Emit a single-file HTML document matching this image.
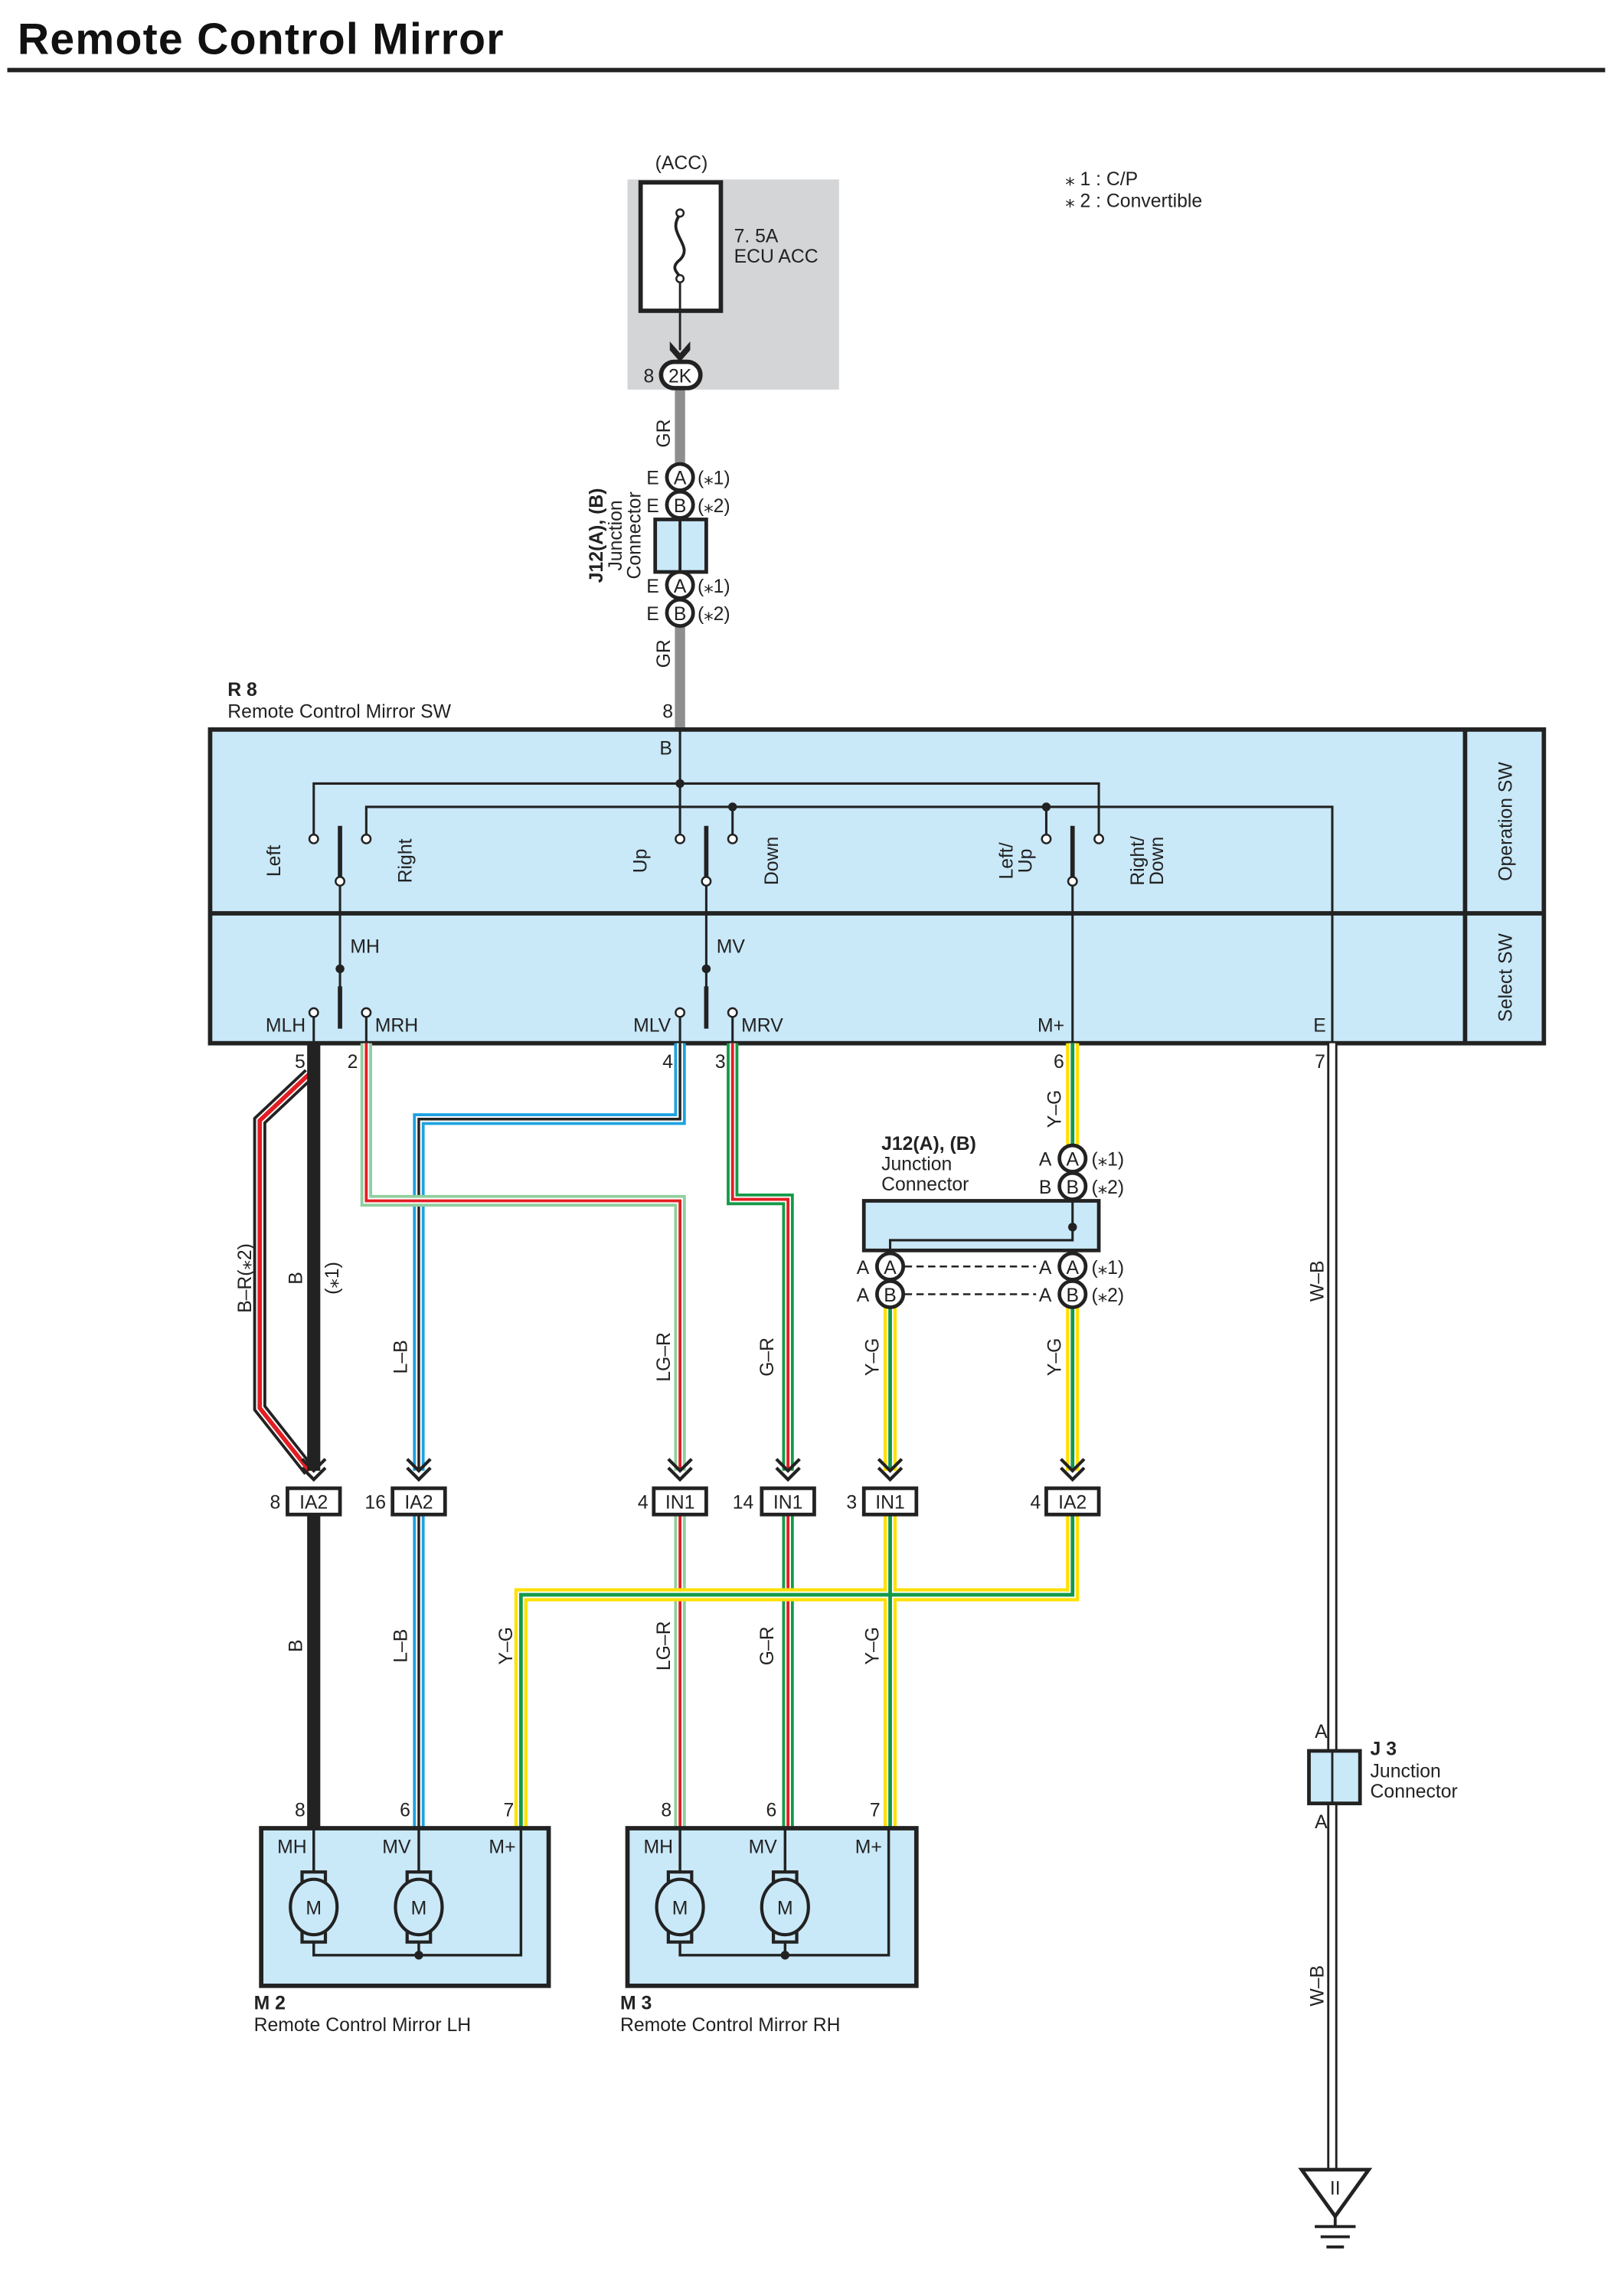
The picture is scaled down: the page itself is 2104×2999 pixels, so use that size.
<!DOCTYPE html>
<html><head><meta charset="utf-8"><style>
html,body{margin:0;padding:0;background:#fff}
svg{display:block}
text{font-family:"Liberation Sans Narrow","Liberation Sans",sans-serif;font-size:13px;fill:#222}
.b{font-weight:bold}
</style></head><body>
<svg width="2104" height="2999" viewBox="0 0 1104 1573.6" preserveAspectRatio="none" xmlns="http://www.w3.org/2000/svg">
<text x="12" y="37" style="font-family:'Liberation Sans',sans-serif;font-size:30px;font-weight:bold;fill:#111" textLength="333">Remote Control Mirror</text>
<line x1="5" y1="48" x2="1100" y2="48" stroke="#222" stroke-width="3"/>

<text x="730" y="127">⁎ 1 : C/P</text>
<text x="730" y="142">⁎ 2 : Convertible</text>

<text x="467" y="116" text-anchor="middle">(ACC)</text>
<rect x="430" y="123" width="145" height="144" fill="#d4d5d7"/>
<rect x="439" y="125" width="55" height="88" fill="#fff" stroke="#222" stroke-width="3"/>
<path d="M466 147 C456 160,476 168,466 178 C458 184,466 188,466 190" fill="none" stroke="#222" stroke-width="2"/>
<circle cx="466" cy="146" r="2.5" fill="#fff" stroke="#222" stroke-width="1.3"/>
<circle cx="466" cy="191" r="2.5" fill="#fff" stroke="#222" stroke-width="1.3"/>
<text x="503" y="166">7. 5A</text><text x="503" y="180">ECU ACC</text>
<line x1="466" y1="194" x2="466" y2="240" stroke="#222" stroke-width="1.5"/>
<path d="M459 234 L466 242 L473 234 L473 240 L466 248 L459 240Z" fill="#222"/>
<line x1="466" y1="266" x2="466" y2="500" stroke="#8e8e8e" stroke-width="7"/>
<rect x="453" y="248" width="27" height="18" rx="9" fill="#fff" stroke="#222" stroke-width="3"/>
<text x="466" y="262" text-anchor="middle">2K</text>
<text x="441" y="262">8</text>
<text transform="translate(459,297) rotate(-90)" text-anchor="middle">GR</text>
<text transform="translate(459,448) rotate(-90)" text-anchor="middle">GR</text>
<g stroke="#222" stroke-width="2.5" fill="#fff">
<circle cx="466" cy="327" r="9"/><circle cx="466" cy="346" r="9"/>
<circle cx="466" cy="401" r="9"/><circle cx="466" cy="420" r="9"/>
</g>
<rect x="449" y="356" width="35" height="36" fill="#c9e8f8" stroke="#222" stroke-width="2.5"/>
<line x1="466" y1="356" x2="466" y2="392" stroke="#222" stroke-width="2"/>
<g text-anchor="middle"><text x="466" y="332">A</text><text x="466" y="351">B</text><text x="466" y="406">A</text><text x="466" y="425">B</text></g>
<text x="443" y="332">E</text><text x="443" y="351">E</text><text x="443" y="406">E</text><text x="443" y="425">E</text>
<text x="478" y="332">(⁎1)</text><text x="478" y="351">(⁎2)</text><text x="478" y="406">(⁎1)</text><text x="478" y="425">(⁎2)</text>
<text transform="translate(413,367) rotate(-90)" text-anchor="middle" class="b">J12(A), (B)</text>
<text transform="translate(426,367) rotate(-90)" text-anchor="middle">Junction</text>
<text transform="translate(439,367) rotate(-90)" text-anchor="middle">Connector</text>

<text x="156" y="477" class="b">R 8</text>
<text x="156" y="492">Remote Control Mirror SW</text>
<text x="454" y="492">8</text>
<rect x="144" y="500" width="914" height="215" fill="#c9e8f8" stroke="#222" stroke-width="3"/>
<line x1="144" y1="626" x2="1058" y2="626" stroke="#222" stroke-width="3"/>
<line x1="1004" y1="500" x2="1004" y2="715" stroke="#222" stroke-width="3"/>
<text transform="translate(1036,563) rotate(-90)" text-anchor="middle">Operation SW</text>
<text transform="translate(1036,670) rotate(-90)" text-anchor="middle">Select SW</text>
<text x="452" y="517">B</text>
<g stroke="#222" stroke-width="1.6" fill="none">
<path d="M466 500 V572"/>
<path d="M215 572 V537 H753 V572"/>
<path d="M251 572 V553 H913 V715"/>
<path d="M502 553 V572"/><path d="M717 553 V572"/>
<path d="M233 607 V690"/><path d="M484 607 V690"/><path d="M735 607 V715"/>
<path d="M215 697 V715"/><path d="M251 697 V715"/><path d="M466 697 V715"/><path d="M502 697 V715"/>
</g>
<g stroke="#222" stroke-width="3">
<line x1="233" y1="566" x2="233" y2="601"/><line x1="484" y1="566" x2="484" y2="601"/><line x1="735" y1="566" x2="735" y2="601"/>
<line x1="233" y1="676" x2="233" y2="705"/><line x1="484" y1="676" x2="484" y2="705"/>
</g>
<g fill="#222"><circle cx="466" cy="537" r="3"/><circle cx="502" cy="553" r="3"/><circle cx="717" cy="553" r="3"/><circle cx="233" cy="664" r="3"/><circle cx="484" cy="664" r="3"/></g>
<g fill="#fff" stroke="#222" stroke-width="1.3">
<circle cx="215" cy="575" r="3"/><circle cx="251" cy="575" r="3"/><circle cx="466" cy="575" r="3"/><circle cx="502" cy="575" r="3"/><circle cx="717" cy="575" r="3"/><circle cx="753" cy="575" r="3"/>
<circle cx="233" cy="604" r="3"/><circle cx="484" cy="604" r="3"/><circle cx="735" cy="604" r="3"/>
<circle cx="215" cy="694" r="3"/><circle cx="251" cy="694" r="3"/><circle cx="466" cy="694" r="3"/><circle cx="502" cy="694" r="3"/>
</g>
<text transform="translate(192,590) rotate(-90)" text-anchor="middle">Left</text>
<text transform="translate(282,590) rotate(-90)" text-anchor="middle">Right</text>
<text transform="translate(443,590) rotate(-90)" text-anchor="middle">Up</text>
<text transform="translate(533,590) rotate(-90)" text-anchor="middle">Down</text>
<text transform="translate(694,590) rotate(-90)" text-anchor="middle">Left/</text>
<text transform="translate(707,590) rotate(-90)" text-anchor="middle">Up</text>
<text transform="translate(784,590) rotate(-90)" text-anchor="middle">Right/</text>
<text transform="translate(797,590) rotate(-90)" text-anchor="middle">Down</text>
<text x="240" y="653">MH</text><text x="491" y="653">MV</text>
<text x="182" y="707">MLH</text><text x="257" y="707">MRH</text><text x="434" y="707">MLV</text><text x="508" y="707">MRV</text><text x="711" y="707">M+</text><text x="900" y="707">E</text>

<g fill="none" stroke-linejoin="miter">
<path d="M212 736 L178 768 V965 L212 1008" stroke="#222" stroke-width="9"/>
<path d="M212 736 L178 768 V965 L212 1008" stroke="#fff" stroke-width="5"/>
<path d="M212 736 L178 768 V965 L212 1008" stroke="#e31e24" stroke-width="3"/>
<path d="M215 715 V1008 M215 1038 V1253" stroke="#222" stroke-width="9"/>
<path d="M466 715 V767 H287 V1008 M287 1038 V1253" stroke="#1ea2e0" stroke-width="8"/>
<path d="M466 715 V767 H287 V1008 M287 1038 V1253" stroke="#fff" stroke-width="4"/>
<path d="M466 715 V767 H287 V1008 M287 1038 V1253" stroke="#222" stroke-width="1.8"/>
<path d="M251 715 V823 H466 V1008 M466 1038 V1253" stroke="#8fcf9e" stroke-width="8"/>
<path d="M251 715 V823 H466 V1008 M466 1038 V1253" stroke="#fff" stroke-width="4"/>
<path d="M251 715 V823 H466 V1008 M466 1038 V1253" stroke="#e31e24" stroke-width="2"/>
<path d="M502 715 V822 H540 V1008 M540 1038 V1253" stroke="#139a48" stroke-width="8"/>
<path d="M502 715 V822 H540 V1008 M540 1038 V1253" stroke="#fff" stroke-width="4"/>
<path d="M502 715 V822 H540 V1008 M540 1038 V1253" stroke="#e31e24" stroke-width="2"/>
<path d="M735 715 V785 M610 896 V1008 M735 896 V1008 M610 1038 V1253 M735 1038 V1093 H357 V1253" stroke="#ffe000" stroke-width="9"/>
<path d="M735 715 V785 M610 896 V1008 M735 896 V1008 M610 1038 V1253 M735 1038 V1093 H357 V1253" stroke="#fff" stroke-width="4.5"/>
<path d="M735 715 V785 M610 896 V1008 M735 896 V1008 M610 1038 V1253 M735 1038 V1093 H357 V1253" stroke="#139a48" stroke-width="2.5"/>
<path d="M913 715 V1200 M913 1236 V1487" stroke="#222" stroke-width="7"/>
<path d="M913 715 V1200 M913 1236 V1487" stroke="#fff" stroke-width="4"/>
</g>
<text x="202" y="732">5</text><text x="238" y="732">2</text><text x="454" y="732">4</text><text x="490" y="732">3</text><text x="722" y="732">6</text><text x="901" y="732">7</text>

<text x="604" y="788" class="b">J12(A), (B)</text>
<text x="604" y="802">Junction</text><text x="604" y="816">Connector</text>
<rect x="592" y="823" width="161" height="34" fill="#c9e8f8" stroke="#222" stroke-width="2.5"/>
<path d="M610 859 V850 H735 V823" stroke="#222" stroke-width="1.6" fill="none"/>
<circle cx="735" cy="841" r="3" fill="#222"/>
<g stroke="#222" stroke-width="1.3" stroke-dasharray="5,3"><line x1="620" y1="868" x2="710" y2="868"/><line x1="620" y1="887" x2="710" y2="887"/></g>
<g stroke="#222" stroke-width="2.5" fill="#fff">
<circle cx="735" cy="794" r="9"/><circle cx="735" cy="813" r="9"/>
<circle cx="610" cy="868" r="9"/><circle cx="610" cy="887" r="9"/><circle cx="735" cy="868" r="9"/><circle cx="735" cy="887" r="9"/>
</g>
<g text-anchor="middle"><text x="735" y="799">A</text><text x="735" y="818">B</text><text x="610" y="873">A</text><text x="610" y="892">B</text><text x="735" y="873">A</text><text x="735" y="892">B</text></g>
<text x="712" y="799">A</text><text x="712" y="818">B</text><text x="587" y="873">A</text><text x="587" y="892">A</text><text x="712" y="873">A</text><text x="712" y="892">A</text>
<text x="748" y="799">(⁎1)</text><text x="748" y="818">(⁎2)</text><text x="748" y="873">(⁎1)</text><text x="748" y="892">(⁎2)</text>

<g text-anchor="middle">
<text transform="translate(172,876) rotate(-90)">B–R(⁎2)</text>
<text transform="translate(207,876) rotate(-90)">B</text>
<text transform="translate(232,876) rotate(-90)">(⁎1)</text>
<text transform="translate(279,930) rotate(-90)">L–B</text>
<text transform="translate(459,930) rotate(-90)">LG–R</text>
<text transform="translate(530,930) rotate(-90)">G–R</text>
<text transform="translate(602,930) rotate(-90)">Y–G</text>
<text transform="translate(727,930) rotate(-90)">Y–G</text>
<text transform="translate(727,760) rotate(-90)">Y–G</text>
<text transform="translate(907,878) rotate(-90)">W–B</text>
<text transform="translate(207,1128) rotate(-90)">B</text>
<text transform="translate(279,1128) rotate(-90)">L–B</text>
<text transform="translate(351,1128) rotate(-90)">Y–G</text>
<text transform="translate(459,1128) rotate(-90)">LG–R</text>
<text transform="translate(530,1128) rotate(-90)">G–R</text>
<text transform="translate(602,1128) rotate(-90)">Y–G</text>
<text transform="translate(907,1361) rotate(-90)">W–B</text>
</g>

<g fill="none" stroke="#222" stroke-width="2.2">
<path d="M207 1000 L215 1008 L223 1000 M207 1006 L215 1014 L223 1006"/>
<path d="M279 1000 L287 1008 L295 1000 M279 1006 L287 1014 L295 1006"/>
<path d="M458 1000 L466 1008 L474 1000 M458 1006 L466 1014 L474 1006"/>
<path d="M532 1000 L540 1008 L548 1000 M532 1006 L540 1014 L548 1006"/>
<path d="M602 1000 L610 1008 L618 1000 M602 1006 L610 1014 L618 1006"/>
<path d="M727 1000 L735 1008 L743 1000 M727 1006 L735 1014 L743 1006"/>
</g>
<g fill="#fff" stroke="#222" stroke-width="2.5">
<rect x="197" y="1020" width="36" height="18"/><rect x="269" y="1020" width="36" height="18"/>
<rect x="448" y="1020" width="36" height="18"/><rect x="522" y="1020" width="36" height="18"/>
<rect x="592" y="1020" width="36" height="18"/><rect x="717" y="1020" width="36" height="18"/>
</g>
<g text-anchor="middle"><text x="215" y="1034">IA2</text><text x="287" y="1034">IA2</text><text x="466" y="1034">IN1</text><text x="540" y="1034">IN1</text><text x="610" y="1034">IN1</text><text x="735" y="1034">IA2</text></g>
<text x="185" y="1034">8</text><text x="250" y="1034">16</text><text x="437" y="1034">4</text><text x="502" y="1034">14</text><text x="580" y="1034">3</text><text x="706" y="1034">4</text>

<text x="901" y="1191">A</text><text x="901" y="1253">A</text>
<rect x="897" y="1200" width="35" height="36" fill="#c9e8f8" stroke="#222" stroke-width="2.5"/>
<line x1="913" y1="1200" x2="913" y2="1236" stroke="#222" stroke-width="1.5"/>
<text x="939" y="1203" class="b">J 3</text><text x="939" y="1218">Junction</text><text x="939" y="1232">Connector</text>
<path d="M892 1487 H938 L915 1519 Z" fill="#fff" stroke="#222" stroke-width="2.5"/>
<text x="915" y="1504" text-anchor="middle">II</text>
<g stroke="#222" stroke-width="2"><line x1="915" y1="1519" x2="915" y2="1526"/><line x1="901" y1="1526" x2="929" y2="1526"/><line x1="905" y1="1533" x2="925" y2="1533"/><line x1="909" y1="1540" x2="921" y2="1540"/></g>

<g>
<rect x="179" y="1253" width="197" height="108" fill="#c9e8f8" stroke="#222" stroke-width="3"/>
<path d="M215 1253 V1285 M287 1253 V1285 M215 1329 V1340 H357 V1253 M287 1329 V1340" fill="none" stroke="#222" stroke-width="1.8"/>
<circle cx="287" cy="1340" r="3" fill="#222"/>
<g fill="#c9e8f8" stroke="#222" stroke-width="2.2">
<rect x="207" y="1283" width="16" height="8"/><rect x="207" y="1323" width="16" height="8"/>
<rect x="279" y="1283" width="16" height="8"/><rect x="279" y="1323" width="16" height="8"/>
<ellipse cx="215" cy="1307" rx="16" ry="19"/><ellipse cx="287" cy="1307" rx="16" ry="19"/>
</g>
<text x="215" y="1312" text-anchor="middle">M</text><text x="287" y="1312" text-anchor="middle">M</text>
<text x="190" y="1270">MH</text><text x="262" y="1270">MV</text><text x="335" y="1270">M+</text>
<text x="202" y="1245">8</text><text x="274" y="1245">6</text><text x="345" y="1245">7</text>
</g>
<g>
<rect x="430" y="1253" width="198" height="108" fill="#c9e8f8" stroke="#222" stroke-width="3"/>
<path d="M466 1253 V1285 M538 1253 V1285 M466 1329 V1340 H609 V1253 M538 1329 V1340" fill="none" stroke="#222" stroke-width="1.8"/>
<circle cx="538" cy="1340" r="3" fill="#222"/>
<g fill="#c9e8f8" stroke="#222" stroke-width="2.2">
<rect x="458" y="1283" width="16" height="8"/><rect x="458" y="1323" width="16" height="8"/>
<rect x="530" y="1283" width="16" height="8"/><rect x="530" y="1323" width="16" height="8"/>
<ellipse cx="466" cy="1307" rx="16" ry="19"/><ellipse cx="538" cy="1307" rx="16" ry="19"/>
</g>
<text x="466" y="1312" text-anchor="middle">M</text><text x="538" y="1312" text-anchor="middle">M</text>
<text x="441" y="1270">MH</text><text x="513" y="1270">MV</text><text x="586" y="1270">M+</text>
<text x="453" y="1245">8</text><text x="525" y="1245">6</text><text x="596" y="1245">7</text>
</g>
<text x="174" y="1377" class="b">M 2</text><text x="174" y="1392">Remote Control Mirror LH</text>
<text x="425" y="1377" class="b">M 3</text><text x="425" y="1392">Remote Control Mirror RH</text>
</svg>
</body></html>
